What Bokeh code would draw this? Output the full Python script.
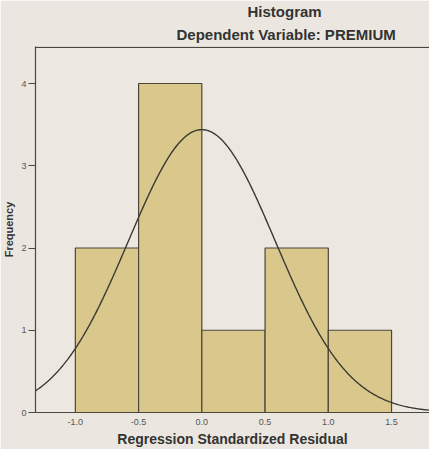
import numpy as np
from bokeh.plotting import figure
from bokeh.models import Title, FixedTicker, Span, Range1d
from bokeh.embed import file_html
from bokeh.resources import INLINE

# ---- data ----
bin_left = [-1.0, -0.5, 0.0, 0.5, 1.0]
bin_right = [-0.5, 0.0, 0.5, 1.0, 1.5]
counts = [2, 4, 1, 2, 1]
x_ticks = [-1.0, -0.5, 0.0, 0.5, 1.0, 1.5]
x_tick_labels = ["-1.0", "-0.5", "0.0", "0.5", "1.0", "1.5"]
y_ticks = [0, 1, 2, 3, 4]
curve_mean = 0.0
curve_std = 0.58
n_cases = 10
bin_width = 0.5

x_lo, x_hi = -1.315, 1.80
y_lo, y_hi = 0.0, 4.45

FONT = "Liberation Sans"
TEXT = "#333333"
EDGE = "#4a463a"

p = figure(width=429, height=449, output_backend="svg", toolbar_location=None,
           x_range=Range1d(x_lo, x_hi), y_range=Range1d(y_lo, y_hi),
           min_border_right=0, min_border_top=0, min_border_left=0, min_border_bottom=0)

p.background_fill_color = "#ece8e1"
p.border_fill_color = "#ebe7e0"
p.outline_line_color = None
p.grid.visible = False

p.add_layout(Title(text="Dependent Variable: PREMIUM", align="left", offset=141,
                   text_font=FONT, text_font_size="15px", text_font_style="bold",
                   text_color=TEXT, standoff=8), "above")
p.add_layout(Title(text="Histogram", align="left", offset=212,
                   text_font=FONT, text_font_size="15px", text_font_style="bold",
                   text_color=TEXT, standoff=0), "above")

p.quad(left=bin_left, right=bin_right, bottom=0, top=counts,
       fill_color="#d9c78c", line_color=EDGE, line_width=1.2)

xs = np.linspace(x_lo, x_hi, 400)
peak = n_cases * bin_width / (curve_std * np.sqrt(2 * np.pi))
ys = peak * np.exp(-0.5 * ((xs - curve_mean) / curve_std) ** 2)
p.line(xs, ys, line_color="#3a3a34", line_width=1.4)

p.add_layout(Span(location=y_hi - 0.01, dimension="width", line_color=EDGE, line_width=1.2))

p.xaxis.ticker = FixedTicker(ticks=x_ticks)
p.xaxis.major_label_overrides = {t: l for t, l in zip(x_ticks, x_tick_labels)}
p.xaxis.major_tick_out = 0
p.xaxis.major_tick_in = 0
p.xaxis.minor_tick_line_color = None
p.xaxis.axis_label = "Regression Standardized Residual"
p.xaxis.major_label_standoff = 6
p.xaxis.axis_label_standoff = 3

p.yaxis.ticker = FixedTicker(ticks=y_ticks)
p.yaxis.major_tick_out = 7
p.yaxis.major_tick_in = 0
p.yaxis.minor_tick_line_color = None
p.yaxis.axis_label = "Frequency"
p.yaxis.major_label_standoff = 2
p.yaxis.axis_label_standoff = 3

for ax in (p.xaxis, p.yaxis):
    ax.axis_line_color = EDGE
    ax.axis_line_width = 1.2
    ax.major_tick_line_color = EDGE
    ax.major_label_text_font = FONT
    ax.major_label_text_font_size = "9px"
    ax.major_label_text_color = "#555555"
    ax.axis_label_text_font = FONT
    ax.axis_label_text_font_style = "bold"
    ax.axis_label_text_color = TEXT

p.xaxis.axis_label_text_font_size = "14px"
p.yaxis.axis_label_text_font_size = "11px"

open("out.html", "w").write(file_html(p, INLINE))
